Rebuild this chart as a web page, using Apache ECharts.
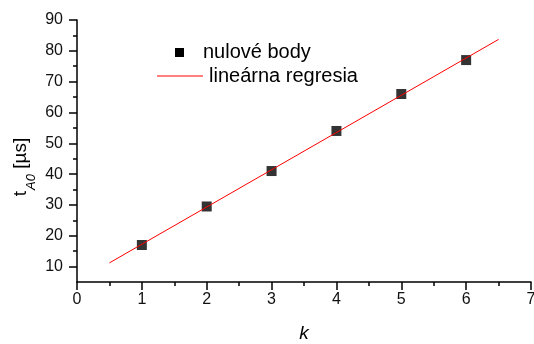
<!DOCTYPE html>
<html>
<head>
<meta charset="utf-8">
<script src="https://cdn.jsdelivr.net/npm/echarts@6/dist/echarts.min.js"></script>
<style>
  html, body { margin: 0; padding: 0; background: #fff; }
  #chart { width: 534px; height: 344px; }
</style>
</head>
<body>
<div id="chart"></div>
<script>
// Measured zero points (order k vs. time t_A0 in microseconds)
const kValues = [1, 2, 3, 4, 5, 6];
const tValues = [17, 29.5, 41, 54, 66, 77];

// Fitted regression line endpoints
const fitK = [0.5, 6.5];
const fitT = [11.2, 83.7];

// Axis tick values
const yMajorTicks = [10, 20, 30, 40, 50, 60, 70, 80, 90];
const yMinorTicks = [15, 25, 35, 45, 55, 65, 75, 85];

const FONT = 'Liberation Sans, Arial, sans-serif';
const chart = echarts.init(document.getElementById('chart'), null, { renderer: 'canvas' });

const axisLineStyle = { color: '#000', width: 1.5 };

chart.setOption({
  animation: false,
  backgroundColor: '#fff',
  grid: { left: 77, right: 3, top: 20, bottom: 62, containLabel: false, outerBoundsMode: 'none' },
  legend: { show: false },
  xAxis: {
    type: 'value',
    min: 0, max: 7, interval: 1,
    name: 'k',
    nameLocation: 'middle',
    nameGap: 42,
    nameTextStyle: { fontFamily: FONT, fontSize: 19, fontStyle: 'italic', color: '#000' },
    axisLine: { show: true, onZero: false, lineStyle: axisLineStyle },
    axisTick: { show: true, inside: false, length: 8, lineStyle: axisLineStyle },
    minorTick: { show: true, splitNumber: 2, length: 4, lineStyle: axisLineStyle },
    axisLabel: { fontFamily: FONT, fontSize: 16, color: '#111', margin: 10, hideOverlap: false, showMaxLabel: true },
    splitLine: { show: false },
    minorSplitLine: { show: false }
  },
  yAxis: [
    {
      type: 'value',
      min: 5, max: 90,
      axisLine: { show: true, onZero: false, lineStyle: axisLineStyle },
      axisTick: { show: true, inside: false, length: 8, lineStyle: axisLineStyle, customValues: yMajorTicks },
      axisLabel: { fontFamily: FONT, fontSize: 16, color: '#111', margin: 14, customValues: yMajorTicks },
      splitLine: { show: false }
    },
    {
      type: 'value',
      min: 5, max: 90,
      position: 'left',
      axisLine: { show: false },
      axisTick: { show: true, inside: false, length: 4, lineStyle: axisLineStyle, customValues: yMinorTicks },
      axisLabel: { show: false },
      splitLine: { show: false }
    }
  ],
  graphic: [
    {
      type: 'text',
      x: 21, y: 167,
      rotation: Math.PI / 2,
      style: {
        text: '{t|t}{s|A0}{t| [µs]}',
        align: 'center',
        verticalAlign: 'middle',
        fill: '#000',
        rich: {
          t: { fontFamily: FONT, fontSize: 19, lineHeight: 19, verticalAlign: 'top', fill: '#000' },
          s: { fontFamily: FONT, fontSize: 13, fontStyle: 'italic', lineHeight: 13, padding: [13, 0, 0, 1], verticalAlign: 'top', fill: '#000' }
        }
      }
    },
    // legend
    {
      type: 'rect',
      shape: { x: 175, y: 48, width: 9, height: 9 },
      style: { fill: '#000' }
    },
    {
      type: 'text',
      x: 203, y: 52,
      style: { text: 'nulové body', fontFamily: FONT, fontSize: 20, fill: '#000', verticalAlign: 'middle' }
    },
    {
      type: 'line',
      shape: { x1: 157, y1: 76, x2: 203, y2: 76 },
      style: { stroke: '#ff0000', lineWidth: 1 }
    },
    {
      type: 'text',
      x: 209, y: 76,
      style: { text: 'lineárna regresia', fontFamily: FONT, fontSize: 20, fill: '#000', verticalAlign: 'middle' }
    }
  ],
  series: [
    {
      name: 'lineárna regresia',
      type: 'line',
      data: fitK.map((k, i) => [k, fitT[i]]),
      showSymbol: false,
      lineStyle: { color: '#ff0000', width: 1 },
      z: 3
    },
    {
      name: 'nulové body',
      type: 'scatter',
      data: kValues.map((k, i) => [k, tValues[i]]),
      symbol: 'rect',
      symbolSize: 10,
      itemStyle: { color: '#000' },
      z: 2
    }
  ]
});
</script>
</body>
</html>
